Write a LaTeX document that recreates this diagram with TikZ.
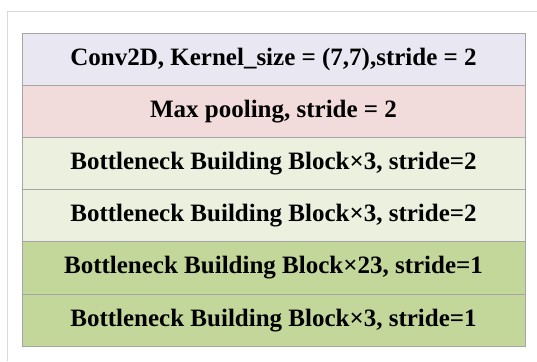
\documentclass[tikz,border=0pt]{standalone}
\usepackage{fontspec}
\setmainfont{Liberation Serif}
\usetikzlibrary{positioning}
\definecolor{convfill}{HTML}{E9E7F1}
\definecolor{poolfill}{HTML}{F2DCDB}
\definecolor{lightgreen}{HTML}{EBF1DE}
\definecolor{darkgreen}{HTML}{C4D79B}
\definecolor{boxline}{HTML}{A6A6A6}
\definecolor{frameline}{HTML}{DADADA}

\begin{document}
\begin{tikzpicture}[x=1pt, y=-1pt,
    layer/.style={draw=boxline, line width=0.9pt, minimum width=503pt, minimum height=52.2pt,
        inner sep=0pt, outer sep=0pt, font=\fontsize{25}{29}\selectfont\bfseries}]
    \useasboundingbox (0,0) rectangle (537,361);
    % outer frame
    \draw[frameline, line width=1pt] (537,12) -- (7,12) -- (7,361);
    % layers
    \node[layer, fill=convfill, anchor=north west] (conv) at (22,33) {Conv2D, Kernel\_size = (7,7),stride = 2};
    \node[layer, fill=poolfill, below=0pt of conv] (pool) {Max pooling, stride = 2};
    \node[layer, fill=lightgreen, below=0pt of pool] (blockA) {Bottleneck Building Block×3, stride=2};
    \node[layer, fill=lightgreen, below=0pt of blockA] (blockB) {Bottleneck Building Block×3, stride=2};
    \node[layer, fill=darkgreen, below=0pt of blockB] (blockC) {Bottleneck Building Block×23, stride=1};
    \node[layer, fill=darkgreen, below=0pt of blockC] (blockD) {Bottleneck Building Block×3, stride=1};
\end{tikzpicture}
\end{document}
